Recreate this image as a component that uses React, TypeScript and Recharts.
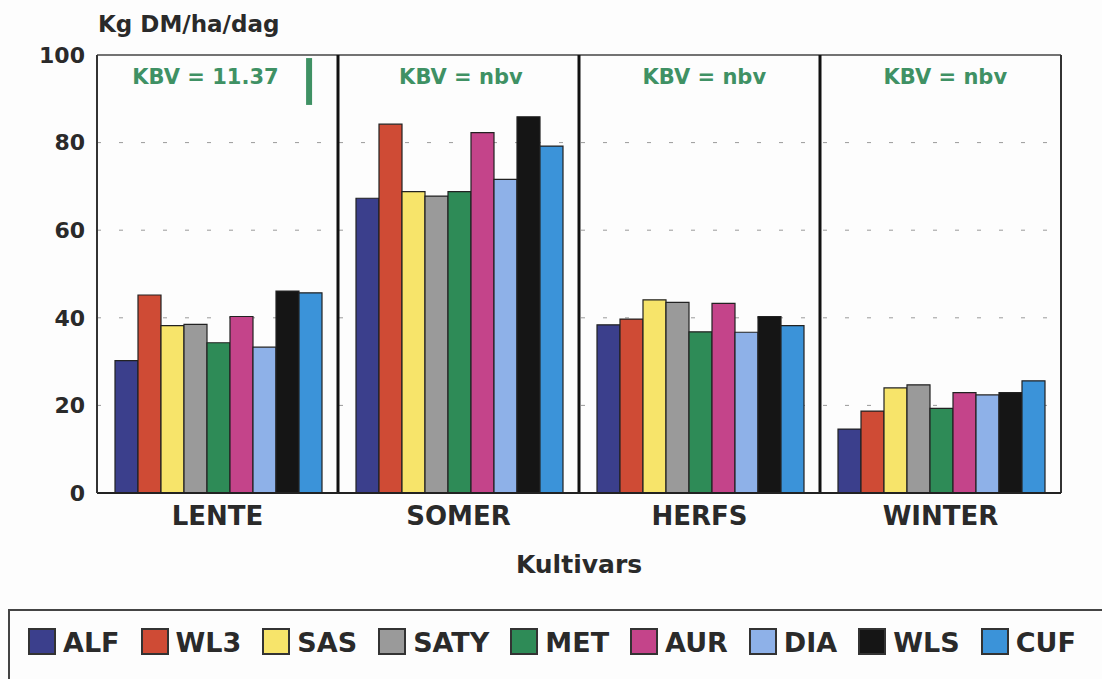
import React from "react";
import { ComposedChart, Bar, XAxis, YAxis, CartesianGrid, ReferenceLine, ReferenceDot } from "recharts";

const seasons = ["LENTE", "SOMER", "HERFS", "WINTER"];
const cultivars = ["ALF", "WL3", "SAS", "SATY", "MET", "AUR", "DIA", "WLS", "CUF"];
const colors = ["#3b3f8c", "#cf4b35", "#f7e46a", "#9a9a9a", "#2e8b57", "#c4448a", "#8eb1e8", "#151515", "#3b93d9"];

const ALF = [30.2, 67.3, 38.4, 14.6];
const WL3 = [45.2, 84.2, 39.7, 18.7];
const SAS = [38.2, 68.8, 44.1, 24.0];
const SATY = [38.5, 67.8, 43.5, 24.7];
const MET = [34.3, 68.8, 36.8, 19.3];
const AUR = [40.3, 82.3, 43.3, 22.9];
const DIA = [33.3, 71.6, 36.7, 22.4];
const WLS = [46.1, 85.9, 40.3, 22.9];
const CUF = [45.7, 79.2, 38.2, 25.6];

const kbvLabels = ["KBV = 11.37", "KBV = nbv", "KBV = nbv", "KBV = nbv"];
const yTicks = [0, 20, 40, 60, 80, 100];
const lsdTop = 99.3;
const lsdBottom = 88.6;

const seriesValues = [ALF, WL3, SAS, SATY, MET, AUR, DIA, WLS, CUF];
const data = seasons.map((s, i) => {
  const row: Record<string, any> = { season: s, idx: i };
  cultivars.forEach((c, j) => {
    row[c] = seriesValues[j][i];
  });
  return row;
});

const FONT = "'DejaVu Sans', sans-serif";
const GREEN = "#3f9164";
const kbvX = [0.45, 1.51, 2.52, 3.52];

export default function App() {
  return (
    <div style={{ position: "absolute", left: 0, top: 0, width: 1102, height: 679, background: "#fdfdfd", overflow: "hidden" }}>
      <ComposedChart
        width={1102}
        height={679}
        data={data}
        margin={{ top: 55, right: 41, left: 37, bottom: 146 }}
        barCategoryGap={18}
        barGap={0}
      >
        <CartesianGrid xAxisId="cat" vertical={false} stroke="#9a9a9a" strokeDasharray="4 18" horizontalValues={[20, 40, 60, 80]} />
        <XAxis
          xAxisId="cat"
          dataKey="season"
          type="category"
          height={40}
          axisLine={{ stroke: "#222", strokeWidth: 2 }}
          tickLine={false}
          tickMargin={8}
          tick={{ fontFamily: FONT, fontSize: 26, fontWeight: "bold", fill: "#2a2a2a" }}
        />
        <XAxis xAxisId="num" dataKey="idx" type="number" domain={[0, 4]} allowDataOverflow hide />
        <YAxis
          width={60}
          domain={[0, 100]}
          ticks={yTicks}
          interval={0}
          axisLine={{ stroke: "#333", strokeWidth: 2 }}
          tickLine={false}
          tickMargin={6}
          tick={{ fontFamily: FONT, fontSize: 22, fontWeight: "bold", fill: "#2a2a2a" }}
        />
        <ReferenceLine xAxisId="num" y={100} stroke="#444" strokeWidth={1.5} />
        <ReferenceLine xAxisId="num" x={4} stroke="#333" strokeWidth={2} />
        {[1, 2, 3].map((v) => (
          <ReferenceLine key={v} xAxisId="num" x={v} stroke="#111" strokeWidth={3} />
        ))}
        {cultivars.map((c, j) => (
          <Bar
            key={c}
            xAxisId="cat"
            dataKey={c}
            fill={colors[j]}
            stroke="#222"
            strokeWidth={1.2}
            isAnimationActive={false}
          />
        ))}
        <ReferenceLine
          xAxisId="num"
          segment={[{ x: 0.88, y: lsdTop }, { x: 0.88, y: lsdBottom }]}
          stroke={GREEN}
          strokeWidth={6}
        />
        {kbvLabels.map((t, i) => (
          <ReferenceDot
            key={i}
            xAxisId="num"
            x={kbvX[i]}
            y={93.4}
            r={0}
            shape={(p: any) => (
              <text x={p.cx} y={p.cy} textAnchor="middle" fontFamily={FONT} fontSize={21} fontWeight="bold" fill={GREEN}>
                {t}
              </text>
            )}
          />
        ))}
      </ComposedChart>
      <svg width={1102} height={679} style={{ position: "absolute", left: 0, top: 0, pointerEvents: "none" }}>
        <text x={98} y={32} fontFamily={FONT} fontSize={23} fontWeight="bold" fill="#2a2a2a">Kg DM/ha/dag</text>
        <text x={579} y={573} textAnchor="middle" fontFamily={FONT} fontSize={25} fontWeight="bold" fill="#2a2a2a">Kultivars</text>
      </svg>
      <div
        style={{
          position: "absolute",
          left: 8,
          top: 609,
          width: 1100,
          height: 90,
          border: "2px solid #444",
          boxSizing: "border-box",
          display: "flex",
          alignItems: "flex-start",
          paddingLeft: 18,
          paddingTop: 17,
          fontFamily: FONT,
          fontWeight: "bold",
          fontSize: 27,
          color: "#2a2a2a",
        }}
      >
        {cultivars.map((c, j) => (
          <div key={c} style={{ display: "flex", alignItems: "center", marginRight: 21 }}>
            <div style={{ width: 28, height: 27, background: colors[j], border: "2px solid #333", boxSizing: "border-box", marginRight: 7 }} />
            <span style={{ lineHeight: "27px", position: "relative", top: 1 }}>{c}</span>
          </div>
        ))}
      </div>
    </div>
  );
}
